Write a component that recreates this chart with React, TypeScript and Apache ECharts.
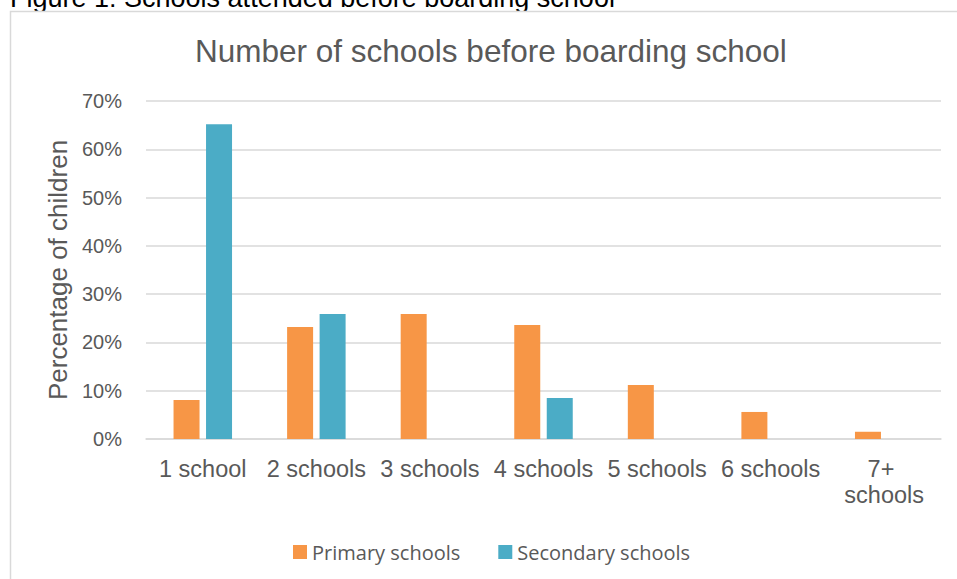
import React, { useEffect, useRef } from "react";
import * as echarts from "echarts";

const categories = ["1 school", "2 schools", "3 schools", "4 schools", "5 schools", "6 schools", "7+ schools"];
const primarySchools = [8.1, 23.2, 25.9, 23.6, 11.2, 5.6, 1.5];
const secondarySchools = [65.2, 25.9, 0, 8.5, 0, 0, 0];
const seriesNames = ["Primary schools", "Secondary schools"];
const chartTitle = "Number of schools before boarding school";
const captionText = "Figure 1: Schools attended before boarding school";
const yAxisName = "Percentage of children";

const ARIAL = "'Liberation Sans', Arial, sans-serif";
const TEXT = "#595959";
const GRID = "#d9d9d9";

export default function App() {
  const ref = useRef<HTMLDivElement>(null);
  useEffect(() => {
    if (!ref.current) return;
    const chart = echarts.init(ref.current, null, { renderer: "svg" });
    chart.setOption({
      animation: false,
      backgroundColor: "#ffffff",
      graphic: [
        {
          type: "text",
          z: -10,
          x: 10,
          y: -2,
          style: {
            text: captionText,
            font: `27px ${ARIAL}`,
            fill: "#000000",
            verticalAlign: "middle",
            align: "left",
          },
        },
        {
          type: "rect",
          z: -5,
          shape: { x: 10.5, y: 11.5, width: 1000, height: 700 },
          style: { fill: "#ffffff", stroke: GRID, lineWidth: 1.5 },
        },
      ],
      title: {
        text: chartTitle,
        left: 195,
        top: 35,
        padding: 0,
        textStyle: {
          fontFamily: ARIAL,
          fontSize: 31.5,
          fontWeight: "normal",
          color: TEXT,
        },
      },
      legend: {
        left: 293,
        top: 542,
        padding: 0,
        itemWidth: 14,
        itemHeight: 14,
        itemGap: 38,
        icon: "rect",
        textStyle: { fontFamily: "'Open Sans', sans-serif", fontSize: 20, color: TEXT },
        data: seriesNames,
      },
      grid: { left: 146, right: 16, top: 101, bottom: 140, containLabel: false },
      xAxis: {
        type: "category",
        data: categories,
        axisLine: { show: true, lineStyle: { color: GRID, width: 1.5 } },
        axisTick: { show: false },
        axisLabel: {
          fontFamily: ARIAL,
          fontSize: 23.5,
          color: TEXT,
          margin: 17,
          interval: 0,
          width: 102,
          overflow: "break",
          lineHeight: 26,
        },
      },
      yAxis: {
        type: "value",
        min: 0,
        max: 70,
        interval: 10,
        name: yAxisName,
        nameLocation: "middle",
        nameGap: 74,
        nameTextStyle: { fontFamily: ARIAL, fontSize: 26, color: TEXT },
        axisLine: { show: false },
        axisTick: { show: false },
        axisLabel: {
          fontFamily: ARIAL,
          fontSize: 20,
          color: TEXT,
          margin: 24,
          formatter: "{value}%",
        },
        splitLine: { lineStyle: { color: GRID, width: 1.5 } },
      },
      series: [
        {
          name: seriesNames[0],
          type: "bar",
          data: primarySchools,
          barWidth: 26,
          barGap: "25%",
          itemStyle: { color: "#F79646" },
        },
        {
          name: seriesNames[1],
          type: "bar",
          data: secondarySchools,
          barWidth: 26,
          barGap: "25%",
          itemStyle: { color: "#4BACC6" },
        },
      ],
    });
    return () => chart.dispose();
  }, []);
  return (
    <div
      ref={ref}
      style={{ position: "absolute", left: 0, top: 0, width: 957, height: 579 }}
    />
  );
}
